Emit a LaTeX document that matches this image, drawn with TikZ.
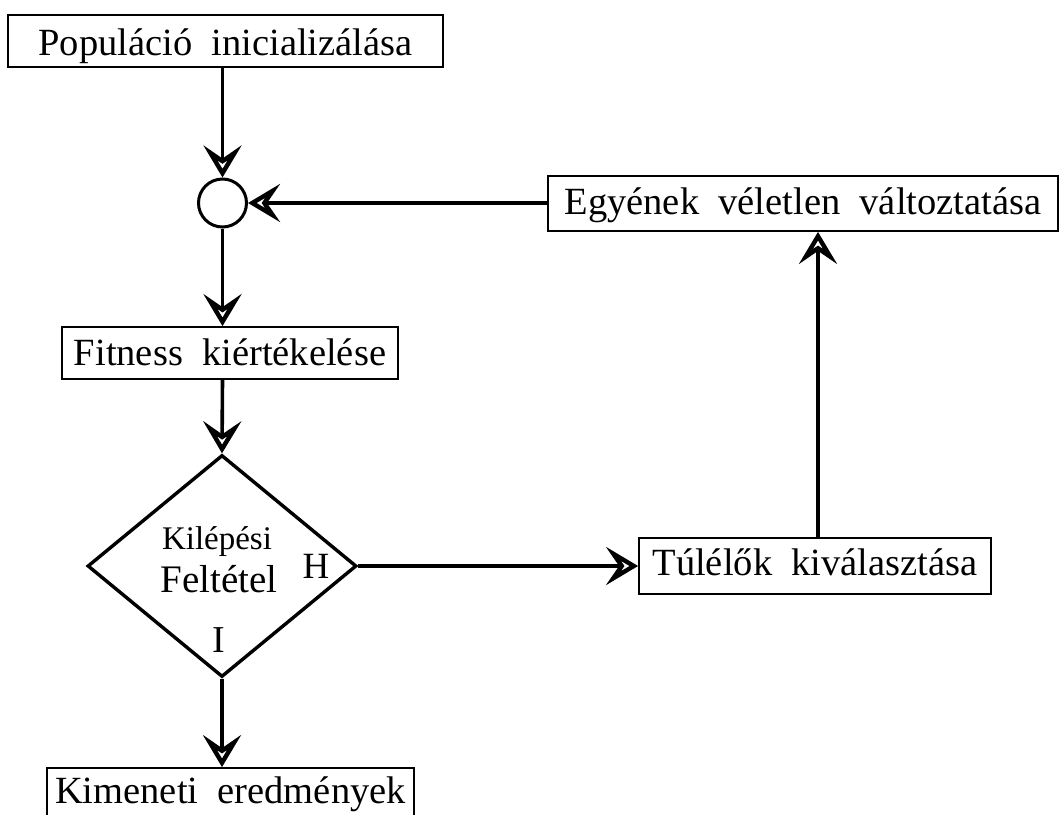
\documentclass[tikz,border=0pt]{standalone}
\usepackage{fontspec}
\setmainfont{Liberation Serif}[WordSpace=2.0]
\usetikzlibrary{arrows.meta,shapes.geometric}
\begin{document}
\begin{tikzpicture}[x=1pt,y=-1pt,
  box/.style={draw,line width=1.8pt,rectangle,inner sep=0pt,
    text height=36pt,text depth=12pt,font=\fontsize{38.5}{42}\selectfont},
  conn/.style={line width=3.6pt,-{Stealth[open,length=32pt,width=38pt,inset=13pt,line width=4.4pt]}},
  lbl/.style={inner sep=0pt,anchor=base}]
\useasboundingbox (0,0) rectangle (1062,814);
\clip (0,0) rectangle (1062,814);

% process boxes
\node[box,minimum width=435pt,minimum height=52pt,text height=40pt] (init) at (225.5,41) {Populáció inicializálása};
\node[draw,circle,line width=3pt,minimum size=48pt,inner sep=0pt] (join) at (222.5,203) {};
\node[box,minimum width=510pt,minimum height=55pt,text height=33pt] (mut) at (803,203.5) {Egyének véletlen változtatása};
\node[box,minimum width=336pt,minimum height=52pt] (fit) at (230,353) {Fitness kiértékelése};
\node[box,minimum width=352pt,minimum height=56pt,text height=30pt] (sel) at (815,566) {Túlélők kiválasztása};
\node[box,minimum width=367pt,minimum height=80pt,text height=2pt] (out) at (230.5,808) {Kimeneti eredmények};

% decision
\node[draw,diamond,line width=3.4pt,minimum width=269pt,minimum height=222pt,inner sep=0pt] (dec) at (222,566) {};
\node[lbl,font=\fontsize{33}{36}\selectfont] (k1) at (217,549) {Kilépési};
\node[lbl,font=\fontsize{39}{42}\selectfont] (k2) at (219,592) {Feltétel};
\node[lbl,font=\fontsize{37}{40}\selectfont] (kh) at (316,578) {H};
\node[lbl,font=\fontsize{38}{41}\selectfont] (ki) at (219,652) {I};

% connectors
\coordinate (up) at (818,0);
\draw[conn] (init.south -| join) -- (join.north);
\draw[conn] (mut.west |- join) -- (join.east);
\draw[conn] (join.south) -- (fit.north -| join);
\draw[conn] (fit.south -| join) -- (dec.north);
\draw[conn] (dec.south) -- (out.north -| dec);
\draw[conn] (dec.east) -- (sel.west |- dec);
\draw[conn] (sel.north -| up) -- (mut.south -| up);
\end{tikzpicture}
\end{document}
